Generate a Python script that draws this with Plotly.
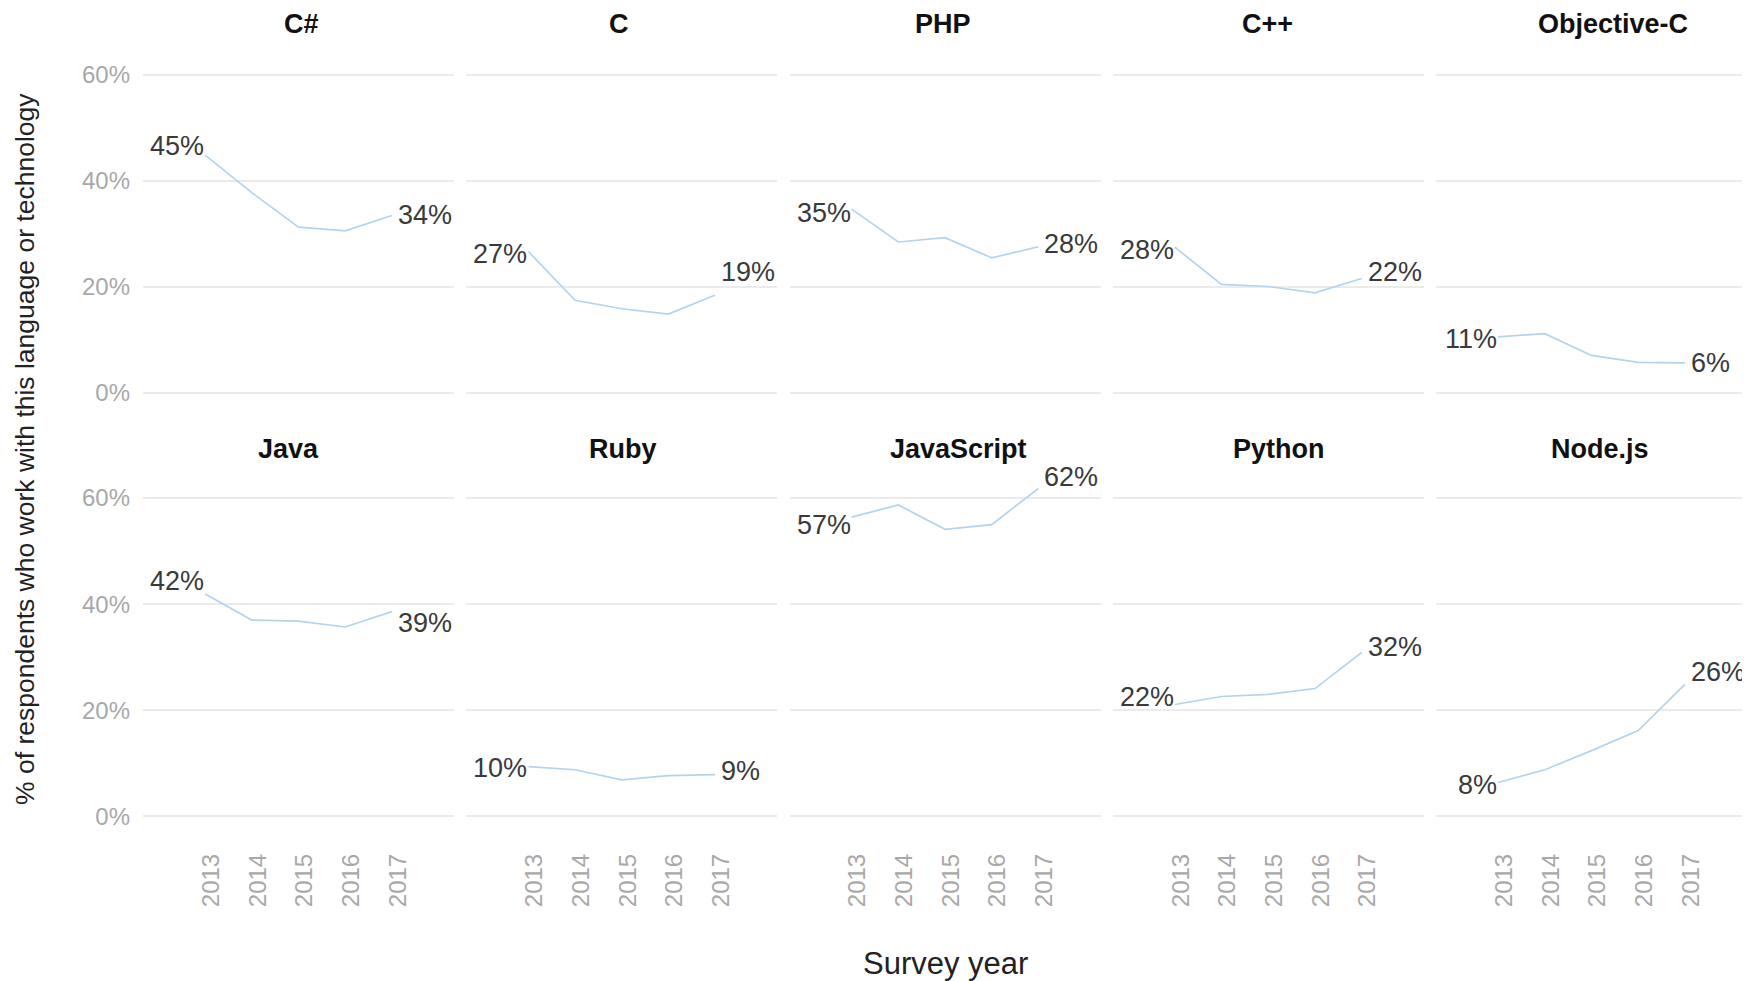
import plotly.graph_objects as go

# ---------------- data ----------------
years = [2013, 2014, 2015, 2016, 2017]
languages = ["C#", "C", "PHP", "C++", "Objective-C",
             "Java", "Ruby", "JavaScript", "Python", "Node.js"]

csharp = [44.8, 37.7, 31.2, 30.5, 33.4]
c_lang = [26.6, 17.4, 15.8, 14.8, 18.4]
php = [34.6, 28.4, 29.2, 25.4, 27.5]
cpp = [27.4, 20.4, 20.0, 18.8, 21.5]
objc = [10.5, 11.1, 7.0, 5.7, 5.6]
java = [41.9, 37.0, 36.8, 35.7, 38.6]
ruby = [9.4, 8.8, 6.9, 7.7, 7.9]
javascript = [56.4, 58.7, 54.1, 55.0, 61.8]
python = [21.1, 22.6, 23.0, 24.1, 30.9]
nodejs = [6.4, 8.8, 12.4, 16.2, 24.9]

series = [csharp, c_lang, php, cpp, objc, java, ruby, javascript, python, nodejs]

start_labels = ["45%", "27%", "35%", "28%", "11%", "42%", "10%", "57%", "22%", "8%"]
end_labels = ["34%", "19%", "28%", "22%", "6%", "39%", "9%", "62%", "32%", "26%"]

y_ticks = [0, 20, 40, 60]
y_tick_text = ["0%", "20%", "40%", "60%"]

# ---------------- styles ----------------
# vertical nudges (px, up = positive) of the value labels, as placed in the original
start_nudge = [8, -3, -5, -4, -3, 12, -2, -9, 6, -3]
end_nudge = [-1, 22, 2, 6, -1, -12, 3, 10, 4, 11]
# horizontal nudges of the panel titles (px)
title_nudge = [3, -3, -2, -1, 21, -10, 1, 13, 11, 8]

FONT = "Liberation Sans, Arial, Helvetica, sans-serif"
LINE_COLOR = "#b3d3ef"
GRID_COLOR = "#ebebeb"
TICK_COLOR = "#a8a8a8"
LABEL_COLOR = "#3a3a3a"

# the page body adds an 8px offset; lay out in page pixels minus that
OFF = 8
W, H = 1750 - OFF, 981 - OFF
ml, mr, mt, mb = 143 - OFF, 3, 48 - OFF, 138 - OFF
pw = W - ml - mr
ph = H - mt - mb
panel_w = 311
gap_w = (pw - panel_w) / 4.0
row_px = [(48 - OFF, 419 - OFF), (471.5 - OFF, 843 - OFF)]
title_px = [23.5 - OFF, 449 - OFF]
bottom_px = H - mb
CAP_FIX = 1  # text box middle vs visual cap middle

fig = go.Figure()

for i, (lang, vals) in enumerate(zip(languages, series)):
    r, c = divmod(i, 5)
    idx = i + 1
    sfx = "" if idx == 1 else str(idx)
    x0 = max(0.0, (c * gap_w) / pw)
    x1 = min(1.0, (c * gap_w + panel_w) / pw)
    top, bot = row_px[r]
    y0 = max(0.0, (bottom_px - bot) / ph)
    y1 = min(1.0, (bottom_px - top) / ph)
    fig.add_trace(go.Scatter(
        x=years, y=vals, mode="lines",
        line=dict(color=LINE_COLOR, width=1.7),
        showlegend=False, hoverinfo="skip",
        xaxis="x" + sfx, yaxis="y" + sfx,
    ))
    fig.update_layout(**{
        "xaxis" + sfx: dict(
            domain=[x0, x1], anchor="y" + sfx,
            range=[2011.67, 2018.33], tickmode="array", tickvals=years,
            ticktext=[str(y) for y in years],
            showticklabels=(r == 1), tickangle=-90, ticklabelshift=6,
            tickfont=dict(family=FONT, size=24, color=TICK_COLOR),
            showgrid=False, zeroline=False, showline=False, ticks="",
            ticklabelstandoff=5,
        ),
        "yaxis" + sfx: dict(
            domain=[y0, y1], anchor="x" + sfx,
            range=[-5, 65], tickmode="array", tickvals=y_ticks, ticktext=y_tick_text,
            showticklabels=(c == 0),
            tickfont=dict(family=FONT, size=24, color=TICK_COLOR),
            showgrid=True, gridcolor=GRID_COLOR, gridwidth=2,
            zeroline=False, showline=False, ticks="", ticklabelstandoff=12,
        ),
    })
    # value labels at the first and last survey year
    fig.add_annotation(
        text=start_labels[i], x=years[0], y=vals[0],
        xref="x" + sfx, yref="y" + sfx, xanchor="right", yanchor="middle",
        xshift=1, yshift=start_nudge[i] + CAP_FIX, showarrow=False,
        font=dict(family=FONT, size=27, color=LABEL_COLOR),
    )
    fig.add_annotation(
        text=end_labels[i], x=years[-1], y=vals[-1],
        xref="x" + sfx, yref="y" + sfx, xanchor="left", yanchor="middle",
        xshift=4, yshift=end_nudge[i] + CAP_FIX, showarrow=False,
        font=dict(family=FONT, size=27, color=LABEL_COLOR),
    )
    fig.add_annotation(
        text="<b>%s</b>" % lang, xref="paper", yref="paper",
        x=(x0 + x1) / 2, y=(bottom_px - title_px[r]) / ph,
        xshift=title_nudge[i],
        xanchor="center", yanchor="middle", showarrow=False,
        font=dict(family=FONT, size=27, color="#111111"),
    )

fig.add_annotation(
    text="Survey year", xref="paper", yref="paper",
    x=0.5, y=(bottom_px - (963 - OFF)) / ph, xanchor="center", yanchor="middle",
    showarrow=False, font=dict(family=FONT, size=31, color="#222222"),
)
fig.add_annotation(
    text="% of respondents who work with this language or technology",
    xref="paper", yref="paper", x=(24.5 - OFF - ml) / pw, y=0.5,
    xanchor="center", yanchor="middle", textangle=-90, showarrow=False,
    font=dict(family=FONT, size=26.5, color="#222222"),
)

fig.update_layout(
    width=W, height=H,
    margin=dict(l=ml, r=mr, t=mt, b=mb),
    paper_bgcolor="white", plot_bgcolor="white",
    font=dict(family=FONT),
)

fig.write_html("out.html")
